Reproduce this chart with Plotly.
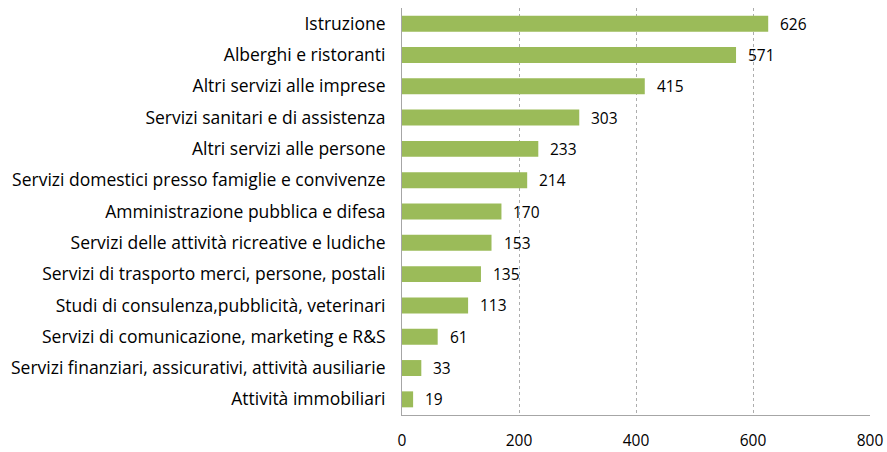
import plotly.graph_objects as go

categories = [
    "Istruzione",
    "Alberghi e ristoranti",
    "Altri servizi alle imprese",
    "Servizi sanitari e di assistenza",
    "Altri servizi alle persone",
    "Servizi domestici presso famiglie e convivenze",
    "Amministrazione pubblica e difesa",
    "Servizi delle attività ricreative e ludiche",
    "Servizi di trasporto merci, persone, postali",
    "Studi di consulenza,pubblicità, veterinari",
    "Servizi di comunicazione, marketing e R&S",
    "Servizi finanziari, assicurativi, attività ausiliarie",
    "Attività immobiliari",
]
values = [626, 571, 415, 303, 233, 214, 170, 153, 135, 113, 61, 33, 19]
tick_vals = [0, 200, 400, 600, 800]

font_family = "Open Sans, sans-serif"

fig = go.Figure()
fig.add_trace(go.Bar(
    x=values,
    y=categories,
    orientation="h",
    marker=dict(color="#9BBB59", line=dict(width=0)),
    hoverinfo="x+y",
))

# value labels to the right of each bar
for cat, v in zip(categories, values):
    fig.add_annotation(
        x=v, y=cat, text=str(v), showarrow=False,
        xanchor="left", yanchor="middle", xshift=10,
        font=dict(family=font_family, size=15.5, color="#000000"),
    )

fig.update_layout(
    width=887,
    height=452,
    margin=dict(l=402, r=17, t=8, b=37),
    plot_bgcolor="white",
    paper_bgcolor="white",
    bargap=0.49,
    showlegend=False,
    font=dict(family=font_family, size=15.5, color="#000000"),
)
fig.update_xaxes(
    range=[0, 800],
    tickvals=tick_vals,
    ticktext=[str(t) for t in tick_vals],
    showgrid=True,
    gridcolor="#ADADAD",
    griddash="dot",
    gridwidth=1,
    zeroline=False,
    showline=True,
    linecolor="#A6A6A6",
    linewidth=1,
    ticks="",
    ticklabelstandoff=11,
    automargin=False,
    tickfont=dict(family=font_family, size=15.5),
)
fig.update_yaxes(
    autorange="reversed",
    showline=True,
    linecolor="#A6A6A6",
    linewidth=1,
    showgrid=False,
    ticks="",
    ticklabelstandoff=12,
    automargin=False,
    tickfont=dict(family=font_family, size=17.5),
)

# drop the default 8px body margin so the figure fills the window
fig.write_html(
    "out.html",
    config={"displayModeBar": False},
    post_script="document.body.style.margin='0';",
)
